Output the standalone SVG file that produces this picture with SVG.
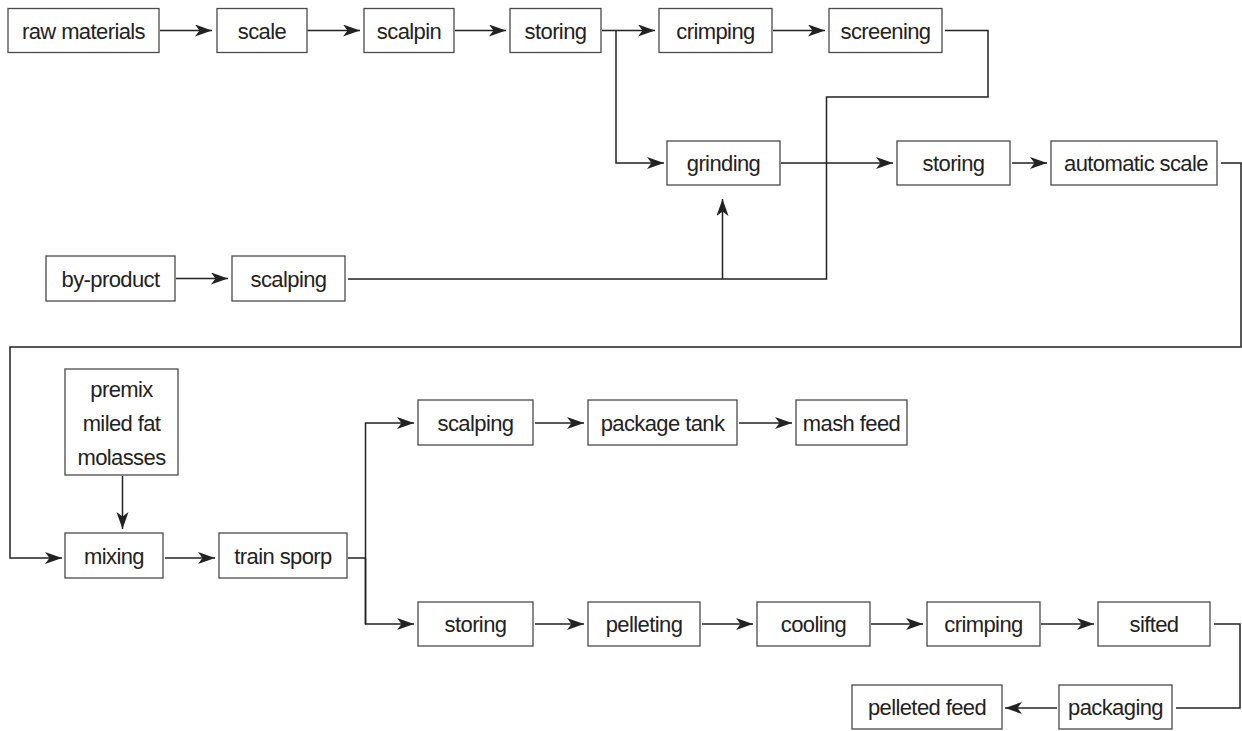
<svg xmlns="http://www.w3.org/2000/svg" width="1242" height="731" viewBox="0 0 1242 731">
  <style>
    .box { fill: #fff; stroke: #4a4a4a; stroke-width: 1.3; }
    .lbl { font-family: "Liberation Sans", Arial, sans-serif; font-size: 22px; letter-spacing: -0.6px; fill: #222; text-anchor: middle; }
    .wire { fill: none; stroke: #222; stroke-width: 1.5; }
    .arrow { fill: none; stroke: #222; stroke-width: 1.5; marker-end: url(#head); }
  </style>
  <defs>
    <marker id="head" markerUnits="userSpaceOnUse" markerWidth="20" markerHeight="14" refX="17" refY="6" orient="auto">
      <path d="M0,0 L17,6 L0,12 L4.5,6 z" fill="#222"/>
    </marker>
  </defs>
  <rect width="1242" height="731" fill="#fff"/>

  <!-- process steps -->
  <g id="raw-materials"><rect class="box" x="8" y="8.5" width="151" height="44"/><text class="lbl" x="83.5" y="38.5">raw materials</text></g>
  <g id="scale"><rect class="box" x="217" y="8.5" width="90" height="44"/><text class="lbl" x="262" y="38.5">scale</text></g>
  <g id="scalpin"><rect class="box" x="364" y="8.5" width="90" height="44"/><text class="lbl" x="409" y="38.5">scalpin</text></g>
  <g id="storing-1"><rect class="box" x="510" y="8.5" width="91" height="44"/><text class="lbl" x="555.5" y="38.5">storing</text></g>
  <g id="crimping-1"><rect class="box" x="659" y="8.5" width="113" height="44"/><text class="lbl" x="715.5" y="38.5">crimping</text></g>
  <g id="screening"><rect class="box" x="829" y="8.5" width="113" height="44"/><text class="lbl" x="885.5" y="38.5">screening</text></g>

  <g id="grinding"><rect class="box" x="667" y="141" width="113" height="44"/><text class="lbl" x="723.5" y="171">grinding</text></g>
  <g id="storing-2"><rect class="box" x="897" y="141" width="113" height="44"/><text class="lbl" x="953.5" y="171">storing</text></g>
  <g id="automatic-scale"><rect class="box" x="1051" y="141" width="166" height="44"/><text class="lbl" x="1136" y="171">automatic scale</text></g>

  <g id="by-product"><rect class="box" x="46" y="256" width="129" height="45"/><text class="lbl" x="110.5" y="286.5">by-product</text></g>
  <g id="scalping-1"><rect class="box" x="232" y="256" width="113" height="45"/><text class="lbl" x="288.5" y="286.5">scalping</text></g>

  <g id="additives"><rect class="box" x="65" y="369" width="113" height="106"/>
    <text class="lbl" x="121.5" y="397">premix</text>
    <text class="lbl" x="121.5" y="431">miled fat</text>
    <text class="lbl" x="121.5" y="465">molasses</text>
  </g>
  <g id="mixing"><rect class="box" x="65" y="533" width="98" height="45"/><text class="lbl" x="114" y="563.5">mixing</text></g>
  <g id="train-sporp"><rect class="box" x="219" y="533" width="128" height="45"/><text class="lbl" x="283" y="563.5">train sporp</text></g>

  <g id="scalping-2"><rect class="box" x="418" y="400" width="115" height="45"/><text class="lbl" x="475.5" y="430.5">scalping</text></g>
  <g id="package-tank"><rect class="box" x="588" y="400" width="149" height="45"/><text class="lbl" x="662.5" y="430.5">package tank</text></g>
  <g id="mash-feed"><rect class="box" x="796" y="400" width="111" height="45"/><text class="lbl" x="851.5" y="430.5">mash feed</text></g>

  <g id="storing-3"><rect class="box" x="418" y="602" width="115" height="44"/><text class="lbl" x="475.5" y="632">storing</text></g>
  <g id="pelleting"><rect class="box" x="588" y="602" width="112" height="44"/><text class="lbl" x="644" y="632">pelleting</text></g>
  <g id="cooling"><rect class="box" x="757" y="602" width="113" height="44"/><text class="lbl" x="813.5" y="632">cooling</text></g>
  <g id="crimping-2"><rect class="box" x="927" y="602" width="113" height="44"/><text class="lbl" x="983.5" y="632">crimping</text></g>
  <g id="sifted"><rect class="box" x="1098" y="602" width="112" height="44"/><text class="lbl" x="1154" y="632">sifted</text></g>

  <g id="pelleted-feed"><rect class="box" x="852" y="685" width="150" height="44"/><text class="lbl" x="927" y="715">pelleted feed</text></g>
  <g id="packaging"><rect class="box" x="1059" y="685" width="113" height="44"/><text class="lbl" x="1115.5" y="715">packaging</text></g>

  <!-- flow lines -->
  <g id="connectors">
    <path class="arrow" d="M160,30.5 H212"/>
    <path class="arrow" d="M307.5,30.5 H360"/>
    <path class="arrow" d="M455,30.5 H506"/>
    <path class="arrow" d="M602,30.5 H655"/>
    <path class="arrow" d="M616,30.5 V163 H664"/>
    <path class="arrow" d="M773,30.5 H825"/>
    <path class="wire" d="M945,30.5 H988 V97 H826.5 V279 H348"/>
    <path class="arrow" d="M722.5,279 V199"/>
    <path class="arrow" d="M176,278.5 H228"/>
    <path class="arrow" d="M781,163 H893"/>
    <path class="arrow" d="M1012,163 H1047"/>
    <path class="arrow" d="M1221,163 H1241 V347 H10 V558 H62"/>
    <path class="arrow" d="M122.5,476 V529"/>
    <path class="arrow" d="M165,558 H215"/>
    <path class="wire" d="M348,558 H365.5"/>
    <path class="arrow" d="M365.5,624 V423 H414"/>
    <path class="arrow" d="M365.5,558 V624 H414"/>
    <path class="arrow" d="M535,423 H584"/>
    <path class="arrow" d="M739,423 H792"/>
    <path class="arrow" d="M535,624 H584"/>
    <path class="arrow" d="M702,624 H753"/>
    <path class="arrow" d="M871,624 H923"/>
    <path class="arrow" d="M1041,624 H1094"/>
    <path class="wire" d="M1214,624 H1240 V708 H1176"/>
    <path class="arrow" d="M1057,708 H1005"/>
  </g>
</svg>
